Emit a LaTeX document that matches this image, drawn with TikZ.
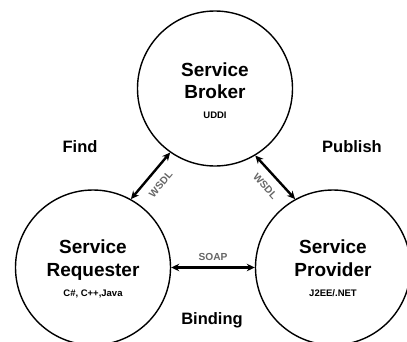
\documentclass[tikz,border=0pt]{standalone}
\usepackage{fontspec}
\setmainfont{Liberation Sans}
\usetikzlibrary{arrows.meta}
\begin{document}
\begin{tikzpicture}[x=1pt,y=-1pt,
  party/.style={circle, draw, line width=1.4pt, minimum size=155pt, inner sep=0pt},
  link/.style={line width=2.4pt, {Stealth[length=8pt,width=7.5pt]}-{Stealth[length=8pt,width=7.5pt]}},
  title/.style={anchor=base, inner sep=0pt, font=\bfseries\fontsize{19}{22}\selectfont},
  tech/.style={anchor=base, inner sep=0pt, font=\bfseries\fontsize{9.5}{11}\selectfont},
  role/.style={inner sep=0pt, font=\bfseries\fontsize{16.5}{19}\selectfont},
  proto/.style={inner sep=0pt, text=black!60, font=\bfseries\fontsize{10.2}{12}\selectfont}
]
\useasboundingbox (0,0) rectangle (407,341);
\clip (0,0) rectangle (407,341);

% the three parties
\node[party] (broker) at (215,88.5) {};
\node[party] (req) at (93,267.5) {};
\node[party] (prov) at (333,267.5) {};

% labels inside the circles
\node[title] (brokerA) at (215,76.7) {Service};
\node[title] (brokerB) at (215,98.3) {Broker};
\node[tech]  (brokerC) at (215,118) {UDDI};

\node[title] (reqA) at (93,253) {Service};
\node[title] (reqB) at (93,276) {Requester};
\node[tech]  (reqC) at (93,296) {C\#, C++,Java};

\node[title] (provA) at (333,253) {Service};
\node[title] (provB) at (333,276) {Provider};
\node[tech]  (provC) at (333,296) {J2EE/.NET};

% role captions
\node[role] (find) at (80,147) {Find};
\node[role] (publish) at (352,147) {Publish};
\node[role] (binding) at (212,320) {Binding};

% message links
\draw[link] (req.61) -- (broker.235)
  node[midway, sloped, below=8.5pt, proto] (wsdlA) {WSDL};
\draw[link] (broker.301) -- (prov.119)
  node[midway, sloped, below=8.5pt, proto] (wsdlB) {WSDL};
\draw[link] (req.0) -- (prov.180)
  node[midway, above=6pt, proto] (soap) {SOAP};
\end{tikzpicture}
\end{document}
